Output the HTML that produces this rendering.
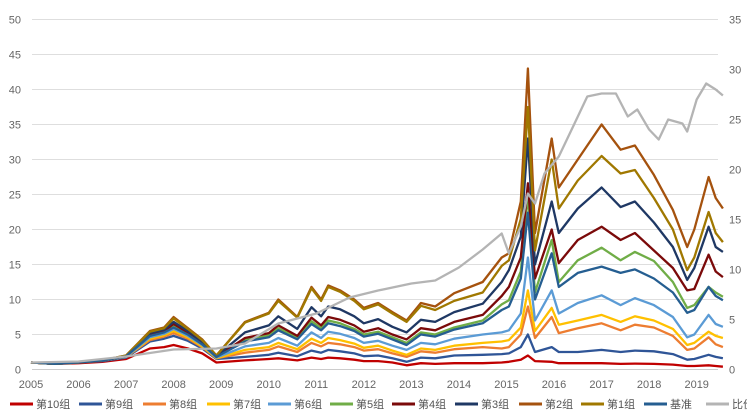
<!DOCTYPE html>
<html><head><meta charset="utf-8"><style>
body{margin:0;background:#fff;}
svg{display:block;font-family:"Liberation Sans","Noto Sans CJK SC",sans-serif;}
</style></head><body>
<svg id="chart" width="747" height="414">
<g id="grid"></g>
<g id="series"></g>
<g id="axes"></g>
<g id="legend"></g>
</svg>
<script>
const dates = [2005.0,2005.5,2006.0,2006.5,2007.0,2007.5,2007.8,2008.0,2008.3,2008.6,2008.9,2009.5,2010.0,2010.2,2010.6,2010.9,2011.1,2011.25,2011.5,2011.8,2012.0,2012.3,2012.6,2012.9,2013.2,2013.5,2013.9,2014.5,2014.9,2015.05,2015.3,2015.45,2015.6,2015.95,2016.1,2016.5,2017.0,2017.4,2017.7,2018.1,2018.5,2018.8,2018.95,2019.25,2019.4,2019.55];
const g10 = [1.0,0.8,0.9,1.1,1.5,3.0,3.2,3.5,3.0,2.3,1.0,1.3,1.5,1.6,1.3,1.7,1.5,1.7,1.6,1.4,1.2,1.2,1.0,0.6,0.9,0.8,0.9,0.9,1.0,1.1,1.4,2.0,1.2,1.1,0.9,0.9,0.9,0.8,0.85,0.8,0.7,0.5,0.5,0.6,0.5,0.4];
const g9 = [1.0,0.8,1.0,1.2,1.7,4.0,4.4,4.8,4.1,3.0,1.5,1.8,2.1,2.4,1.9,2.7,2.4,2.8,2.6,2.3,1.9,2.0,1.6,1.1,1.7,1.6,2.0,2.1,2.2,2.3,3.2,5.0,2.5,3.2,2.5,2.5,2.8,2.5,2.7,2.6,2.2,1.4,1.5,2.1,1.8,1.6];
const g8 = [1.0,0.8,1.0,1.3,1.8,4.2,4.7,5.2,4.4,3.2,1.6,2.4,2.8,3.3,2.5,3.8,3.3,3.8,3.6,3.2,2.7,2.9,2.3,1.8,2.6,2.4,2.9,3.2,3.0,3.2,5.0,9.0,4.5,7.5,5.2,5.9,6.6,5.6,6.4,6.0,4.8,2.8,3.0,4.6,3.6,3.2];
const g7 = [1.0,0.8,1.0,1.3,1.8,4.4,4.9,5.5,4.6,3.3,1.6,2.8,3.2,3.8,2.9,4.4,3.8,4.5,4.2,3.7,3.1,3.4,2.7,2.1,3.0,2.8,3.4,3.8,4.0,4.2,6.0,11.3,5.5,8.8,6.4,7.0,7.8,6.8,7.6,7.0,5.8,3.5,3.8,5.4,4.8,4.5];
const g6 = [1.0,0.8,1.0,1.3,1.8,4.6,5.1,5.8,4.8,3.5,1.7,3.3,3.8,4.5,3.4,5.3,4.5,5.4,5.1,4.5,3.8,4.1,3.4,2.8,3.8,3.6,4.4,5.0,5.3,5.6,8.0,16.0,7.0,11.3,8.0,9.5,10.6,9.2,10.2,9.2,7.5,4.6,5.0,7.8,6.5,6.1];
const g5 = [1.0,0.8,1.0,1.3,1.9,4.9,5.4,6.3,5.1,3.7,1.8,4.2,4.9,5.9,4.5,6.9,5.9,7.0,6.6,5.8,5.0,5.4,4.6,3.8,5.3,5.0,6.0,7.0,9.3,9.9,14.0,25.0,11.0,18.5,12.5,15.6,17.4,15.6,16.8,15.5,12.5,8.8,9.2,11.8,11.0,10.4];
const g4 = [1.0,0.8,1.0,1.3,1.9,5.0,5.5,6.5,5.3,3.8,1.8,4.5,5.2,6.3,4.8,7.4,6.3,7.5,7.1,6.3,5.4,5.9,5.0,4.3,5.9,5.6,6.8,7.8,10.5,11.8,16.0,26.6,13.0,20.0,15.2,18.5,20.4,18.5,19.5,17.0,14.5,11.3,11.5,16.4,14.0,13.2];
const g3 = [1.0,0.8,1.0,1.3,1.9,5.2,5.7,6.8,5.5,4.0,1.9,5.3,6.3,7.6,5.8,8.9,7.6,9.0,8.6,7.6,6.6,7.2,6.1,5.3,7.1,6.8,8.2,9.4,12.5,14.2,19.0,33.0,15.0,24.0,19.5,23.0,26.0,23.2,24.0,21.0,17.5,12.8,14.5,20.4,17.5,16.8];
const g2 = [1.0,0.8,1.0,1.3,2.0,5.5,6.0,7.5,5.9,4.3,2.0,6.8,8.1,10.0,7.5,11.8,10.0,12.0,11.3,10.0,8.8,9.5,8.2,7.0,9.5,9.0,10.9,12.5,16.0,16.6,24.0,43.0,19.5,33.0,26.0,30.0,35.0,31.4,32.0,27.8,22.8,17.5,20.0,27.5,24.5,23.0];
const g1 = [1.0,0.8,1.0,1.3,2.0,5.4,5.9,7.3,5.8,4.2,2.0,6.7,8.0,9.8,7.4,11.6,9.8,11.8,11.1,9.8,8.6,9.3,8.0,6.8,9.1,8.5,9.8,11.0,14.8,15.6,21.5,37.5,17.0,30.0,23.0,27.0,30.5,28.0,28.5,24.5,20.0,14.2,16.0,22.5,19.5,18.2];
const bench = [1.0,0.8,1.0,1.3,1.9,4.8,5.3,6.0,5.0,3.6,1.8,4.0,4.6,5.6,4.3,6.5,5.6,6.6,6.2,5.5,4.7,5.1,4.3,3.5,5.0,4.7,5.7,6.6,8.5,9.0,13.0,22.4,10.0,16.6,11.8,13.8,14.7,13.8,14.3,13.0,11.0,8.1,8.5,11.8,10.5,9.9];
const ratioDates = [2005,2006,2007,2008,2008.9,2009.5,2010.2,2011,2011.7,2012.3,2013,2013.5,2014,2014.5,2014.9,2015.05,2015.3,2015.45,2015.6,2015.8,2016.1,2016.4,2016.7,2017,2017.3,2017.55,2017.75,2018,2018.2,2018.4,2018.7,2018.8,2019,2019.2,2019.4,2019.55];
const ratio = [0.7,0.8,1.3,2.0,2.1,2.6,4.6,5.6,7.2,7.9,8.6,8.9,10.2,12,13.6,11.6,14.3,17.6,16.6,19.6,21.3,24.3,27.3,27.6,27.6,25.3,26,24,23,25,24.6,23.8,27,28.6,28,27.4];
const leftTicks = [0,5,10,15,20,25,30,35,40,45,50];
const rightTicks = [0,5,10,15,20,25,30,35];
const yearTicks = [2005,2006,2007,2008,2009,2010,2011,2012,2013,2014,2015,2016,2017,2018,2019];
const legendLabels = ['第10组','第9组','第8组','第7组','第6组','第5组','第4组','第3组','第2组','第1组','基准','比价'];

const NS='http://www.w3.org/2000/svg';
const X0=31, XW=47.55, YB=369.5, YT=19.5;
const xs = d => X0 + (d-2005)*XW;
const yl = v => YB - v*(YB-YT)/50;
const yr = v => YB - v*(YB-YT)/35;
function mk(tag, parent){const e=document.createElementNS(NS,tag);parent.appendChild(e);return e;}

const grid=document.getElementById('grid');
leftTicks.forEach(t=>{
  if(t===0) return;
  const l=mk('line',grid);
  
  
  l.setAttribute('x1',32);l.setAttribute('x2',718);
  l.setAttribute('y1',yl(t));l.setAttribute('y2',yl(t));
  l.setAttribute('stroke','#dedede');l.setAttribute('stroke-width','1');
});
const axes=document.getElementById('axes');
const base=mk('line',axes);


base.setAttribute('x1',32);base.setAttribute('x2',718);base.setAttribute('y1',YB);base.setAttribute('y2',YB);
base.setAttribute('stroke','#cccccc');
leftTicks.forEach(t=>{
  const tx=mk('text',axes);
  
  
  tx.setAttribute('x',21);tx.setAttribute('y',yl(t)+4);
  tx.setAttribute('text-anchor','end');tx.setAttribute('font-size','11');tx.setAttribute('fill','#666');
  tx.textContent=t;
});
rightTicks.forEach(t=>{
  const tx=mk('text',axes);
  
  
  tx.setAttribute('x',729);tx.setAttribute('y',yr(t)+4);
  tx.setAttribute('font-size','11');tx.setAttribute('fill','#666');
  tx.textContent=t;
});
yearTicks.forEach(t=>{
  const tx=mk('text',axes);
  
  
  tx.setAttribute('x',xs(t));tx.setAttribute('y',388);
  tx.setAttribute('text-anchor','middle');tx.setAttribute('font-size','11');tx.setAttribute('fill','#666');
  tx.textContent=t;
});

const seriesList=[
 ['group10-line',g10,'#c00000',dates,yl],
 ['group9-line',g9,'#2f5597',dates,yl],
 ['group8-line',g8,'#ed7d31',dates,yl],
 ['group7-line',g7,'#ffc000',dates,yl],
 ['group6-line',g6,'#5b9bd5',dates,yl],
 ['group5-line',g5,'#70ad47',dates,yl],
 ['group4-line',g4,'#7b0a0a',dates,yl],
 ['group3-line',g3,'#1f3864',dates,yl],
 ['group2-line',g2,'#a5520e',dates,yl],
 ['group1-line',g1,'#a07800',dates,yl],
 ['benchmark-line',bench,'#255e91',dates,yl],
 ['ratio-line',ratio,'#b4b4b4',ratioDates,yr]
];
const sg=document.getElementById('series');
seriesList.forEach(s=>{
  const p=mk('polyline',sg);
  
  
  p.setAttribute('points',s[1].map((v,i)=>xs(s[3][i]).toFixed(1)+','+s[4](v).toFixed(1)).join(' '));
  p.setAttribute('fill','none');p.setAttribute('stroke',s[2]);
  p.setAttribute('stroke-width','2.3');p.setAttribute('stroke-linejoin','round');
});

const lg=document.getElementById('legend');
const legX=[10,79,143,207,268,330,392,455,519,581,644,706];
legendLabels.forEach((lab,i)=>{
  const l=mk('line',lg);
  
  
  l.setAttribute('x1',legX[i]);l.setAttribute('x2',legX[i]+23);
  l.setAttribute('y1',404);l.setAttribute('y2',404);
  l.setAttribute('stroke',seriesList[i][2]);l.setAttribute('stroke-width','3');
  const t=mk('text',lg);
  
  
  t.setAttribute('x',legX[i]+26);t.setAttribute('y',408);
  t.setAttribute('font-size','11');t.setAttribute('fill','#555');
  t.textContent=lab;
});
</script>
</body></html>
